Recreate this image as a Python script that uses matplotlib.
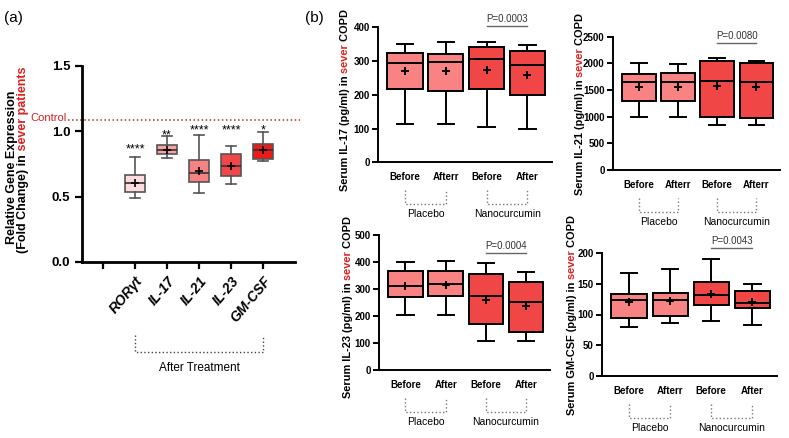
import matplotlib
matplotlib.use("Agg")
import matplotlib.pyplot as plt
from matplotlib.transforms import IdentityTransform

plt.rcParams["font.family"] = ["Liberation Sans", "DejaVu Sans"]

# ---- data ----
# panel (a): gene expression after treatment (whislo, q1, med, q3, whishi, mean)
genes = ["RORγt", "IL-17", "IL-21", "IL-23", "GM-CSF"]
gene_stats = [
    (0.49, 0.535, 0.605, 0.665, 0.805, 0.605),
    (0.795, 0.825, 0.86, 0.895, 0.965, 0.86),
    (0.53, 0.61, 0.68, 0.78, 0.975, 0.695),
    (0.595, 0.66, 0.735, 0.83, 0.885, 0.735),
    (0.77, 0.79, 0.855, 0.905, 0.995, 0.855),
]
gene_stars = ["****", "**", "****", "****", "*"]
star_y = [0.885, 0.995, 1.035, 1.035, 1.035]
gene_colors = ["#fcdcdc", "#f7a3a3", "#f78282", "#f04848", "#ee1a1a"]
control_level = 1.085

# panel (b): serum levels, placebo before/after, nanocurcumin before/after
il17 = [(112, 216, 295, 323, 350, 270), (114, 212, 297, 321, 355, 270),
        (106, 218, 305, 341, 357, 273), (98, 198, 287, 331, 349, 260)]
il21 = [(1000, 1300, 1650, 1800, 2000, 1550), (1000, 1300, 1650, 1812, 1987, 1550),
        (837, 1000, 1662, 2050, 2100, 1575), (837, 975, 1650, 2000, 2050, 1550)]
il23 = [(206, 271, 310, 367, 400, 310), (203, 273, 319, 368, 403, 314),
        (110, 172, 273, 357, 397, 261), (110, 140, 252, 325, 362, 238)]
gmcsf = [(79, 94, 123, 133, 168, 120), (86, 98, 124, 135, 174, 122),
         (89, 115, 132, 153, 191, 134), (83, 111, 118, 139, 150, 120)]

labels_il17 = ["Before", "Afterr", "Before", "After"]
labels_il21 = ["Before", "Afterr", "Before", "Afterr"]
labels_il23 = ["Before", "After", "Before", "After"]
labels_gmcsf = ["Before", "Afterr", "Before", "After"]

pvals = ["P=0.0003", "P=0.0080", "P=0.0004", "P=0.0043"]
pval_y = [404, 2375, 432, 208]
groups = ["Placebo", "Nanocurcumin"]
group_colors = ["#f98383", "#f04646"]

W, H = 789, 438
fig = plt.figure(figsize=(W / 100, H / 100), dpi=100)
narrow = ["Liberation Sans Narrow", "Liberation Sans"]


def to_bxp(rows):
    return [dict(whislo=r[0], q1=r[1], med=r[2], q3=r[3], whishi=r[4], mean=r[5], fliers=[])
            for r in rows]


def rot_label(x, yc, parts, size):
    # vertical label built from coloured pieces, x / yc in pixels from top-left
    r = fig.canvas.get_renderer()
    ts = []
    for s, c in parts:
        t = fig.text(0, 0, s, color=c, rotation=90, ha="center", va="bottom",
                     fontsize=size, fontweight="bold", transform=IdentityTransform())
        ts.append(t)
    hs = [t.get_window_extent(r).height for t in ts]
    y = (H - yc) - sum(hs) / 2
    for t, h in zip(ts, hs):
        t.set_position((x, y))
        y += h


# ---- panel (a) ----
ax = fig.add_axes([82 / W, 1 - 262 / H, 213 / W, 196 / H])
bp = ax.bxp(to_bxp(gene_stats), positions=[1, 2, 3, 4, 5], widths=0.65, capwidths=0.3,
            showmeans=True, patch_artist=True,
            boxprops=dict(edgecolor="#555555", linewidth=1.2),
            whiskerprops=dict(color="#555555", linewidth=1.2),
            capprops=dict(color="#555555", linewidth=1.2),
            medianprops=dict(color="#333333", linewidth=1.2),
            meanprops=dict(marker="+", markeredgecolor="black", markersize=6, markeredgewidth=1.2))
for patch, c in zip(bp["boxes"], gene_colors):
    patch.set_facecolor(c)
for i, (s, y) in enumerate(zip(gene_stars, star_y)):
    ax.text(i + 1, y - 0.05, s, ha="center", va="baseline", fontsize=9)
ax.plot([-1.1, 6.15], [control_level, control_level], ls=":", color="#b03030", lw=1.1, clip_on=False)
ax.text(-1.13, control_level + 0.02, "Control", color="#d42020", ha="right", va="center",
        fontsize=8, family=narrow)
ax.set_xlim(-0.66, 6.0)
ax.set_ylim(0, 1.5)
ax.set_yticks([0, 0.5, 1.0, 1.5])
ax.set_yticklabels(["0.0", "0.5", "1.0", "1.5"], fontweight="bold", fontsize=9.5, family=narrow)
ax.set_xticks([0, 1, 2, 3, 4, 5])
ax.set_xticklabels([""] + genes, rotation=50, ha="right", rotation_mode="anchor",
                   fontweight="bold", style="italic", fontsize=10)
ax.tick_params(axis="both", width=1.6, length=5)
for sp in ["top", "right"]:
    ax.spines[sp].set_visible(False)
for sp in ["left", "bottom"]:
    ax.spines[sp].set_linewidth(2)
ax.plot([1, 1, 5, 5], [-0.56, -0.69, -0.69, -0.56], ls=":", color="#444444", lw=1, clip_on=False)
ax.text(3, -0.815, "After Treatment", ha="center", va="center", fontsize=8.5, family=narrow)
fig.text(4 / W, 1 - 18 / H, "(a)", fontsize=11, va="center")
fig.text(305 / W, 1 - 18 / H, "(b)", fontsize=11, va="center")

rot_label(12, 167, [("Relative Gene Expression", "black")], 9)
rot_label(23, 160, [("(Fold Change) in", "black"), (" sever patients", "#e02020")], 9)


# ---- panel (b) ----
def serum_panel(rect, rows, ticklabels, ylim, yticks, name, pval, py, lab_x, lab_yc):
    a = fig.add_axes([rect[0] / W, 1 - rect[3] / H, (rect[2] - rect[0]) / W, (rect[3] - rect[1]) / H])
    b = a.bxp(to_bxp(rows), positions=[0, 1, 2, 3], widths=0.86, capwidths=0.4,
              showmeans=True, patch_artist=True,
              boxprops=dict(edgecolor="black", linewidth=1.4),
              whiskerprops=dict(color="black", linewidth=1.4),
              capprops=dict(color="black", linewidth=1.4),
              medianprops=dict(color="black", linewidth=1.4),
              meanprops=dict(marker="+", markeredgecolor="black", markersize=6, markeredgewidth=1.4))
    for i, patch in enumerate(b["boxes"]):
        patch.set_facecolor(group_colors[i // 2])
    a.set_xlim(-0.66, 3.6)
    a.set_ylim(*ylim)
    a.set_yticks(yticks)
    a.set_yticklabels([str(v) for v in yticks], fontweight="bold", fontsize=7)
    a.set_xticks([0, 1, 2, 3])
    a.set_xticklabels(ticklabels, fontweight="bold", fontsize=7)
    a.tick_params(axis="y", width=1.4, length=4, pad=2)
    a.tick_params(axis="x", length=0, pad=7)
    for sp in ["top", "right"]:
        a.spines[sp].set_visible(False)
    for sp in ["left", "bottom"]:
        a.spines[sp].set_linewidth(1.4)
    a.plot([2, 3], [py, py], color="#666666", lw=1, clip_on=False)
    a.annotate(pval, (2.5, py), xytext=(0, 1.5), textcoords="offset points",
               ha="center", va="bottom", fontsize=7, color="#333333", annotation_clip=False)
    # dotted brackets and group names below the axis (pixel space)
    ybase = a.transAxes.transform((0, 0))[1]
    for k, g in enumerate(groups):
        px0 = a.transData.transform((2 * k, 0))[0]
        px1 = a.transData.transform((2 * k + 1, 0))[0]
        fig.add_artist(plt.Line2D([px0, px0, px1, px1], [ybase - 28, ybase - 42, ybase - 42, ybase - 28],
                                  transform=IdentityTransform(), ls=":", color="#777777", lw=1))
        fig.text((px0 + px1) / 2, ybase - 52, g, transform=IdentityTransform(),
                 ha="center", va="center", fontsize=7.5)
    parts = [("Serum " + name + " (pg/ml) in", "black"), (" sever", "#e02020"), (" COPD", "black")]
    rot_label(lab_x, lab_yc, parts, 7.9)
    return a


serum_panel((378, 27.3, 552, 162.3), il17, labels_il17, (0, 400), [0, 100, 200, 300, 400],
            "IL-17", pvals[0], pval_y[0], 345, 100)
serum_panel((613, 36.7, 780, 170), il21, labels_il21, (0, 2500), [0, 500, 1000, 1500, 2000, 2500],
            "IL-21", pvals[1], pval_y[1], 580, 104)
serum_panel((379, 235, 550, 370.3), il23, labels_il23, (0, 500), [0, 100, 200, 300, 400, 500],
            "IL-23", pvals[2], pval_y[2], 348, 307)
serum_panel((602, 253, 777, 376), gmcsf, labels_gmcsf, (0, 200), [0, 50, 100, 150, 200],
            "GM-CSF", pvals[3], pval_y[3], 572, 315)

fig.savefig("out.png", dpi=100)
